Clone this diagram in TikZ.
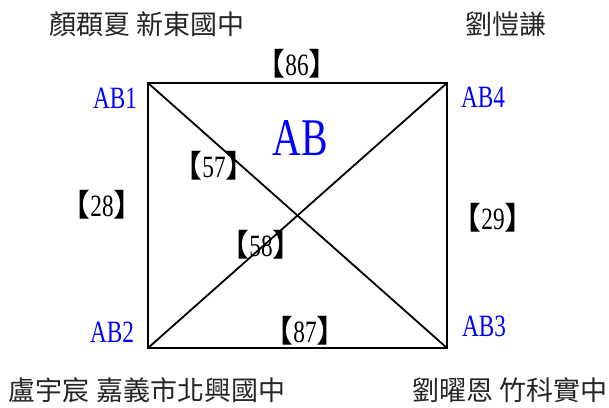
\documentclass[tikz,border=0pt]{standalone}
\usepackage{fontspec}
\setmainfont{Liberation Serif}[FakeStretch=0.75]
\newfontfamily\cjk{Noto Sans CJK TC}
\newcommand\wt[1]{{\cjk【}#1{\cjk】}}
\tikzset{
  person/.style={font=\cjk\fontsize{27}{27}\selectfont, text=black!85},
  vertex/.style={font=\fontsize{31}{31}\selectfont, text=blue},
  score/.style={font=\fontsize{31}{31}\selectfont, inner sep=0pt},
  edge/.style={line width=1.8pt}
}
\begin{document}
\begin{tikzpicture}[x=1pt,y=-1pt]
\useasboundingbox (0,0) rectangle (609,407);
\coordinate (c1) at (148,83);
\coordinate (c4) at (447,83);
\coordinate (c2) at (148,348);
\coordinate (c3) at (447,348);

\draw[edge] (c1) -- (c4) -- (c3) -- (c2) -- cycle;
\draw[edge] (c1) -- (c3);
\draw[edge] (c2) -- (c4);

\node[vertex] (ab1) at (115,98) {AB1};
\node[vertex] (ab4) at (483,97) {AB4};
\node[vertex] (ab2) at (112,332) {AB2};
\node[vertex] (ab3) at (484,326) {AB3};
\node[vertex, font=\fontsize{53}{53}\selectfont] (ab) at (300,138) {AB};

\node[score] (s86) at (297,64) {\wt{86}};
\node[score] (s57) at (214,166) {\wt{57}};
\node[score] (s28) at (102,205) {\wt{28}};
\node[score] (s29) at (493,218) {\wt{29}};
\node[score] (s58) at (261,245) {\wt{58}};
\node[score] (s87) at (305,331) {\wt{87}};

\node[person] (p1) at (147,24) {顏頵夏 新東國中};
\node[person] (p4) at (506,24) {劉愷謙};
\node[person] (p2) at (147,390) {盧宇宸 嘉義市北興國中};
\node[person] (p3) at (510,390) {劉曜恩 竹科實中};
\end{tikzpicture}
\end{document}
